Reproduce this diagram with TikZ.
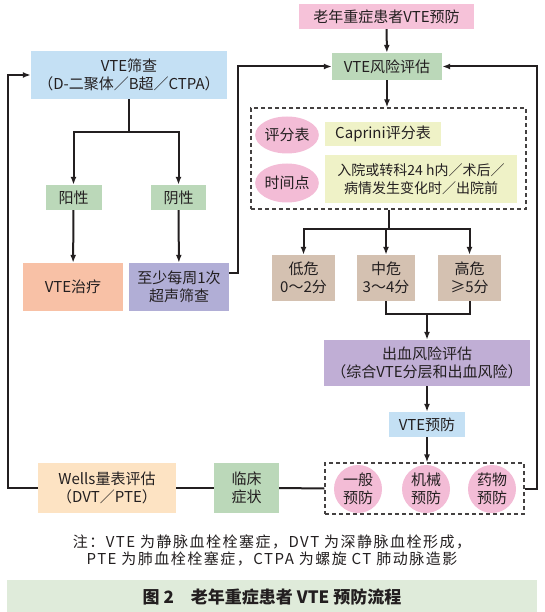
\documentclass[tikz,border=0pt]{standalone}
\usepackage{fontspec}
\setmainfont{Noto Sans CJK SC}
\usetikzlibrary{arrows.meta,shapes.geometric}
\definecolor{ink}{HTML}{231F20}
\definecolor{rose}{HTML}{F6C2D9}
\definecolor{blossom}{HTML}{F3BCD6}
\definecolor{sky}{HTML}{C4E0F4}
\definecolor{sage}{HTML}{BBD8B9}
\definecolor{salmon}{HTML}{F8C1A6}
\definecolor{lilac}{HTML}{B1AED6}
\definecolor{mauve}{HTML}{C0AED5}
\definecolor{sand}{HTML}{D4C1B1}
\definecolor{lemon}{HTML}{EFF2C7}
\definecolor{peach}{HTML}{FDE3C3}
\definecolor{band}{HTML}{DFEBDA}

\begin{document}
\begin{tikzpicture}[x=1pt,y=-1pt,
    box/.style={inner sep=0pt,align=center,text=ink,font=\fontsize{15}{18}\selectfont},
    tight/.style={font=\fontsize{14}{18}\selectfont},
    flow/.style={line width=2pt,draw=ink,-{Latex[length=8pt,width=6pt]}},
    link/.style={line width=2pt,draw=ink},
    group/.style={draw=ink!85,line width=1.1pt,dash pattern=on 4pt off 3pt}]
    \useasboundingbox (0,0) rectangle (544,612);

    \node[box,fill=rose,minimum width=175pt,minimum height=25pt] (top) at (386.5,16.5) {老年重症患者VTE预防};
    \node[box,fill=sage,minimum width=110pt,minimum height=27pt] (risk) at (387,66.5) {VTE风险评估};
    \node[group,minimum width=275pt,minimum height=101pt] (assess) at (388.5,158.5) {};
    \node[box,ellipse,fill=blossom,minimum width=61pt,minimum height=37pt] (scale) at (287,135) {评分表};
    \node[box,fill=lemon,minimum width=116pt,minimum height=24pt] (caprini) at (383,134) {Caprini评分表};
    \node[box,ellipse,fill=blossom,minimum width=61pt,minimum height=39pt] (time) at (287,183) {时间点};
    \node[box,tight,fill=lemon,minimum width=192pt,minimum height=48pt] (when) at (421,179) {入院或转科24 h内／术后／\\病情发生变化时／出院前};
    \node[box,fill=sand,minimum width=63pt,minimum height=46pt] (low) at (303.5,278) {低危\\0～2分};
    \node[box,fill=sand,minimum width=58pt,minimum height=46pt] (mid) at (386,278) {中危\\3～4分};
    \node[box,fill=sand,minimum width=63pt,minimum height=46pt] (high) at (469.5,278) {高危\\≥5分};
    \node[box,fill=mauve,minimum width=206pt,minimum height=46pt] (bleed) at (427,363) {出血风险评估\\（综合VTE分层和出血风险）};
    \node[box,fill=sky,minimum width=76pt,minimum height=25pt] (prevent) at (427,424.5) {VTE预防};
    \node[group,minimum width=199pt,minimum height=51pt] (measure) at (424.5,488.5) {};
    \node[box,circle,fill=blossom,minimum size=48pt] (general) at (358,489) {一般\\预防};
    \node[box,circle,fill=blossom,minimum size=48pt] (device) at (426,489) {机械\\预防};
    \node[box,circle,fill=blossom,minimum size=48pt] (drug) at (492,489) {药物\\预防};

    \node[box,fill=sky,minimum width=196pt,minimum height=48pt] (screen) at (129,75) {VTE筛查\\（D-二聚体／B超／CTPA）};
    \node[box,fill=sage,minimum width=56pt,minimum height=25pt] (pos) at (73.5,197.5) {阳性};
    \node[box,fill=sage,minimum width=55pt,minimum height=25pt] (neg) at (178.5,197.5) {阴性};
    \node[box,fill=salmon,minimum width=100pt,minimum height=48pt] (treat) at (73,287) {VTE治疗};
    \node[box,fill=lilac,minimum width=100pt,minimum height=48pt] (weekly) at (179,287) {至少每周1次\\超声筛查};
    \node[box,fill=peach,minimum width=138pt,minimum height=50pt] (wells) at (107,488) {Wells量表评估\\（DVT／PTE）};
    \node[box,fill=sage,minimum width=65pt,minimum height=50pt] (clinic) at (246.5,488) {临床\\症状};

    \coordinate (lc) at (8,488);
    \coordinate (rc) at (537,488.5);
    \coordinate (join) at (427,314);

    \draw[flow] (top) -- (risk);
    \draw[flow] (risk.south) -- (assess.north -| risk.south);
    \draw[link] (assess.south) -- ++(0,19) coordinate (fork);
    \draw[flow] (fork) -| (low.north);
    \draw[flow] (fork) -| (mid.north);
    \draw[flow] (fork) -| (high.north);
    \draw[link] (mid.south) |- (join) -| (high.south);
    \draw[flow] (join) -- (bleed.north);
    \draw[flow] (bleed) -- (prevent);
    \draw[flow] (prevent.south) -- (measure.north -| prevent.south);
    \draw[flow] (measure.east) -- (rc) |- (risk.east);
    \draw[link] (measure.west) -- (clinic.east);
    \draw[link] (clinic.west) -- (wells.east);
    \draw[flow] (wells.west) -- (lc) |- (screen.west);
    \draw[link] (screen.south) -- ++(0,33) coordinate (split);
    \draw[flow] (split) -| (pos.north);
    \draw[flow] (split) -| (neg.north);
    \draw[flow] (pos) -- (treat);
    \draw[flow] (neg) -- (weekly);
    \draw[flow] ([yshift=14pt]weekly.east) -- ++(9,0) |- (risk.west);

    \node[text=ink,align=center,font=\fontsize{15}{17}\selectfont\addfontfeature{LetterSpace=10}] (note) at (272,550) {注：VTE 为静脉血栓栓塞症，DVT 为深静脉血栓形成，\\PTE 为肺血栓栓塞症，CTPA 为螺旋 CT 肺动脉造影};
    \fill[band] (7,580) rectangle (537,612);
    \node[text=ink,font=\bfseries\fontsize{17}{20}\selectfont] (title) at (272,597) {图 2\quad 老年重症患者 VTE 预防流程};
\end{tikzpicture}
\end{document}
